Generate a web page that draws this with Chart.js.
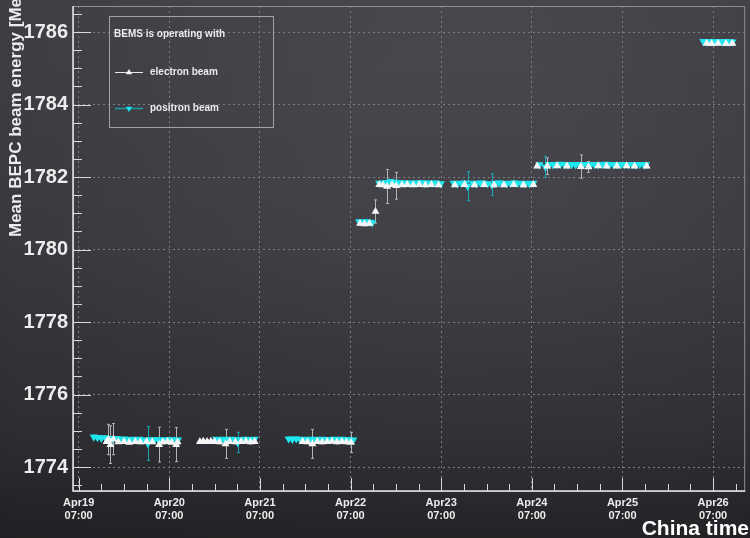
<!DOCTYPE html>
<html>
<head>
<meta charset="utf-8">
<script src="https://cdn.jsdelivr.net/npm/chart.js@4.4.1/dist/chart.umd.min.js"></script>
<style>
  html, body { margin: 0; padding: 0; background: #2e2e33; }
  canvas { display: block; }
</style>
</head>
<body>
<canvas id="bems" width="750" height="538"></canvas>
<script>
// Time axis: hours since Apr19 07:00 (China time)
const dayTicks  = [0, 24, 48, 72, 96, 120, 144, 168];
const dayLabels = ['Apr19', 'Apr20', 'Apr21', 'Apr22', 'Apr23', 'Apr24', 'Apr25', 'Apr26'];
const timeLabel = '07:00';
const energyTicks = [1774, 1776, 1778, 1780, 1782, 1784, 1786];

// Electron beam measurements
const electronHours = [
  7.4, 7.9, 8.4, 9.2, 10.5, 12.0, 13.4, 15.0, 16.3, 18.0, 19.5, 21.3, 22.3, 23.5, 24.6, 25.8, 26.2,
  32.1, 33.0, 34.0, 35.0, 36.0, 37.3, 38.9, 40.0, 41.5, 43.0, 44.3, 45.5, 46.6,
  59.3, 60.6, 61.9, 63.2, 64.5, 65.8, 67.1, 68.4, 69.7, 70.9, 72.1,
  74.5, 75.7, 77.0, 78.6,
  79.6, 80.6, 81.7, 83.0, 84.1, 85.6, 87.0, 88.6, 90.2, 91.8, 93.4, 95.3,
  99.6, 102.2, 104.8, 107.4, 110.0, 112.6, 115.2, 117.8, 120.4,
  121.4, 124.1, 126.7, 129.3, 133.0, 135.0, 137.6, 139.8, 142.5, 145.1, 147.2, 150.4,
  166.3, 167.6, 169.3, 171.4, 173.1
];
const electronEnergy = [
  1774.70, 1774.76, 1774.62, 1774.77, 1774.69, 1774.70, 1774.68, 1774.70, 1774.69, 1774.70, 1774.69, 1774.62, 1774.69, 1774.70, 1774.68, 1774.62, 1774.69,
  1774.70, 1774.71, 1774.70, 1774.71, 1774.70, 1774.69, 1774.64, 1774.70, 1774.69, 1774.70, 1774.71, 1774.69, 1774.70,
  1774.70, 1774.69, 1774.64, 1774.70, 1774.69, 1774.70, 1774.71, 1774.69, 1774.70, 1774.69, 1774.68,
  1780.72, 1780.71, 1780.72, 1781.05,
  1781.79, 1781.78, 1781.74, 1781.79, 1781.76, 1781.78, 1781.79, 1781.78, 1781.79, 1781.78, 1781.79, 1781.78,
  1781.78, 1781.79, 1781.78, 1781.79, 1781.78, 1781.78, 1781.79, 1781.78, 1781.79,
  1782.30, 1782.30, 1782.31, 1782.30, 1782.29, 1782.28, 1782.31, 1782.30, 1782.30, 1782.31, 1782.30, 1782.30,
  1785.69, 1785.68, 1785.69, 1785.68, 1785.69
];
const electronError = [
  0.04, 0.42, 0.52, 0.43, 0.04, 0.05, 0.04, 0.04, 0.05, 0.04, 0.04, 0.48, 0.05, 0.04, 0.04, 0.47, 0.05,
  0.05, 0.04, 0.05, 0.04, 0.04, 0.05, 0.40, 0.04, 0.05, 0.04, 0.04, 0.05, 0.04,
  0.04, 0.05, 0.40, 0.04, 0.05, 0.04, 0.04, 0.05, 0.04, 0.05, 0.28,
  0.04, 0.05, 0.04, 0.32,
  0.04, 0.05, 0.47, 0.04, 0.37, 0.04, 0.05, 0.04, 0.04, 0.05, 0.04, 0.04,
  0.04, 0.05, 0.04, 0.04, 0.05, 0.04, 0.04, 0.05, 0.04,
  0.04, 0.23, 0.04, 0.04, 0.32, 0.15, 0.04, 0.05, 0.04, 0.04, 0.05, 0.04,
  0.04, 0.05, 0.04, 0.04, 0.05
];

// Positron beam measurements
const positronHours = [
  4.0, 5.0, 6.0, 7.0, 8.0, 9.0, 10.0, 11.0, 12.0, 13.0, 14.0, 15.0, 16.0, 17.0, 18.3, 19.0, 20.0, 21.0, 22.0, 23.0, 24.0, 25.0, 26.3,
  36.4, 37.4, 38.4, 39.4, 40.4, 41.4, 42.1, 43.0, 44.0, 45.0, 46.0, 46.6,
  55.6, 56.6, 57.6, 58.6, 59.6, 60.6, 61.6, 62.6, 63.6, 64.6, 65.6, 66.6, 67.6, 68.6, 69.6, 70.6, 71.6, 72.7,
  74.3, 75.3, 76.3, 77.0, 77.7,
  79.6, 80.6, 81.6, 82.6, 83.6, 84.6, 85.6, 86.6, 87.6, 88.6, 89.6, 90.6, 91.6, 92.6, 93.6, 94.6, 95.9,
  99.3, 100.3, 101.3, 102.3, 103.0, 104.3, 105.3, 106.3, 107.3, 108.3, 109.4, 110.3, 111.3, 112.3, 113.3, 114.3, 115.3, 116.3, 117.3, 118.3, 119.3, 120.4,
  122.0, 123.6, 124.6, 125.6, 126.6, 127.6, 128.6, 129.6, 130.6, 131.6, 132.6, 133.6, 134.6, 135.6, 136.6, 137.6, 138.6, 139.6, 140.6, 141.6, 142.6, 143.6, 144.6, 145.6, 146.6, 147.6, 148.6, 149.6, 150.2,
  165.4, 166.4, 167.4, 168.4, 169.4, 170.4, 171.4, 172.4, 173.1
];
const positronEnergy = [
  1774.83, 1774.82, 1774.80, 1774.81, 1774.79, 1774.78, 1774.79, 1774.77, 1774.78, 1774.76, 1774.77, 1774.76, 1774.77, 1774.75, 1774.65, 1774.76, 1774.75, 1774.76, 1774.74, 1774.76, 1774.75, 1774.76, 1774.75,
  1774.77, 1774.76, 1774.77, 1774.76, 1774.77, 1774.76, 1774.68, 1774.76, 1774.77, 1774.76, 1774.76, 1774.77,
  1774.78, 1774.77, 1774.78, 1774.77, 1774.76, 1774.77, 1774.76, 1774.77, 1774.76, 1774.77, 1774.76, 1774.76, 1774.77, 1774.76, 1774.77, 1774.76, 1774.76, 1774.75,
  1780.77, 1780.76, 1780.77, 1780.76, 1780.74,
  1781.83, 1781.84, 1781.85, 1781.88, 1781.86, 1781.84, 1781.85, 1781.83, 1781.84, 1781.83, 1781.84, 1781.85, 1781.83, 1781.84, 1781.83, 1781.84, 1781.82,
  1781.83, 1781.82, 1781.83, 1781.84, 1781.75, 1781.83, 1781.82, 1781.84, 1781.83, 1781.82, 1781.79, 1781.83, 1781.84, 1781.83, 1781.82, 1781.83, 1781.84, 1781.83, 1781.82, 1781.83, 1781.82, 1781.83,
  1782.34, 1782.28, 1782.35, 1782.34, 1782.35, 1782.36, 1782.35, 1782.34, 1782.35, 1782.34, 1782.35, 1782.34, 1782.35, 1782.34, 1782.35, 1782.34, 1782.35, 1782.36, 1782.35, 1782.34, 1782.35, 1782.34, 1782.35, 1782.34, 1782.35, 1782.34, 1782.35, 1782.34, 1782.34,
  1785.74, 1785.73, 1785.74, 1785.73, 1785.74, 1785.73, 1785.74, 1785.73, 1785.73
];
const positronError = [
  0.05, 0.04, 0.05, 0.04, 0.05, 0.04, 0.05, 0.04, 0.04, 0.05, 0.04, 0.05, 0.04, 0.05, 0.47, 0.04, 0.05, 0.04, 0.05, 0.04, 0.05, 0.04, 0.05,
  0.04, 0.05, 0.04, 0.05, 0.04, 0.05, 0.28, 0.04, 0.05, 0.04, 0.05, 0.04,
  0.05, 0.04, 0.05, 0.04, 0.05, 0.04, 0.05, 0.04, 0.05, 0.04, 0.05, 0.04, 0.05, 0.04, 0.05, 0.04, 0.05, 0.04,
  0.05, 0.04, 0.05, 0.04, 0.05,
  0.04, 0.05, 0.04, 0.05, 0.04, 0.05, 0.04, 0.05, 0.04, 0.05, 0.04, 0.05, 0.04, 0.05, 0.04, 0.05, 0.04,
  0.05, 0.04, 0.05, 0.04, 0.40, 0.05, 0.04, 0.05, 0.04, 0.05, 0.30, 0.04, 0.05, 0.04, 0.05, 0.04, 0.05, 0.04, 0.05, 0.04, 0.05, 0.04,
  0.04, 0.29, 0.05, 0.04, 0.05, 0.04, 0.05, 0.04, 0.05, 0.04, 0.05, 0.04, 0.05, 0.04, 0.05, 0.04, 0.05, 0.04, 0.05, 0.04, 0.05, 0.04, 0.05, 0.04, 0.05, 0.04, 0.05, 0.04, 0.05,
  0.04, 0.05, 0.04, 0.05, 0.04, 0.05, 0.04, 0.05, 0.04
];

const FONT = "'Liberation Sans', Arial, Helvetica, sans-serif";
const TEXT = '#ececec';
const ELECTRON_MARK = '#f5f5f5';
const ELECTRON_BAR = '#b4b4b8';
const POSITRON_MARK = '#1fe6ef';
const POSITRON_BAR = '#17a7b0';

function points(hours, energy, err) {
  return hours.map((h, i) => ({ x: h, y: energy[i], err: err[i] }));
}

// Fixed axis box: no automatic edge padding for tick labels
function fixBox(size, horizontal) {
  return function (scale) {
    if (horizontal) scale.height = size; else scale.width = size;
    scale.paddingLeft = 0;
    scale.paddingRight = 0;
    scale.paddingTop = 0;
    scale.paddingBottom = 0;
  };
}

// Page background, slightly darker towards the bottom
const backdrop = {
  id: 'backdrop',
  beforeDraw(chart) {
    const { ctx, width, height } = chart;
    ctx.save();
    const g = ctx.createLinearGradient(0, 0, 0, height);
    g.addColorStop(0, '#49484f');
    g.addColorStop(0.45, '#424148');
    g.addColorStop(0.8, '#36353b');
    g.addColorStop(1, '#28282c');
    ctx.fillStyle = g;
    ctx.fillRect(0, 0, width, height);
    const r = ctx.createRadialGradient(460, 150, 100, 460, 150, 760);
    r.addColorStop(0, 'rgba(0,0,0,0)');
    r.addColorStop(1, 'rgba(0,0,0,0.25)');
    ctx.fillStyle = r;
    ctx.fillRect(0, 0, width, height);
    ctx.restore();
  }
};

// Vertical error bars with short end caps, drawn under the markers
const errorBars = {
  id: 'errorBars',
  beforeDatasetsDraw(chart) {
    const { ctx, scales: { x, y }, chartArea } = chart;
    ctx.save();
    ctx.beginPath();
    ctx.rect(chartArea.left, chartArea.top, chartArea.right - chartArea.left, chartArea.bottom - chartArea.top);
    ctx.clip();
    chart.data.datasets.forEach(ds => {
      ctx.strokeStyle = ds.errorColor;
      ctx.lineWidth = 1;
      ds.data.forEach(p => {
        const px = Math.round(x.getPixelForValue(p.x)) + 0.5;
        const y1 = y.getPixelForValue(p.y + p.err);
        const y2 = y.getPixelForValue(p.y - p.err);
        ctx.beginPath();
        ctx.moveTo(px, y1); ctx.lineTo(px, y2);
        ctx.moveTo(px - 1.5, y1); ctx.lineTo(px + 1.5, y1);
        ctx.moveTo(px - 1.5, y2); ctx.lineTo(px + 1.5, y2);
        ctx.stroke();
      });
    });
    ctx.restore();
  }
};

// Frame, inward tick marks, axis titles and legend box
const decorations = {
  id: 'decorations',
  afterDraw(chart) {
    const { ctx, chartArea: a, scales: { x, y } } = chart;
    ctx.save();

    // frame
    ctx.strokeStyle = '#8e8e94';
    ctx.lineWidth = 1;
    ctx.strokeRect(a.left + 0.5, a.top + 0.5, a.right - a.left - 1, a.bottom - a.top);

    // axis lines
    ctx.strokeStyle = '#e6e6e6';
    ctx.lineWidth = 1.5;
    ctx.beginPath();
    ctx.moveTo(a.left, a.top); ctx.lineTo(a.left, a.bottom);
    ctx.lineTo(a.right, a.bottom);
    ctx.stroke();

    // x ticks: major every day, minor every 6 hours
    ctx.strokeStyle = '#d8d8d8';
    ctx.lineWidth = 1;
    ctx.beginPath();
    for (let hh = Math.ceil(x.min / 6) * 6; hh <= x.max; hh += 6) {
      const px = Math.round(x.getPixelForValue(hh)) + 0.5;
      const len = (hh % 24 === 0) ? 13 : 7;
      ctx.moveTo(px, a.bottom); ctx.lineTo(px, a.bottom - len);
    }
    // y ticks: major every 2 MeV, minor every 0.5 MeV
    for (let v = Math.ceil(y.min * 2) / 2; v <= y.max; v += 0.5) {
      const py = Math.round(y.getPixelForValue(v)) + 0.5;
      const len = (Math.abs(v % 2) < 1e-6) ? 18 : 9;
      ctx.moveTo(a.left, py); ctx.lineTo(a.left + len, py);
    }
    ctx.stroke();

    // y axis title, anchored at its lower end
    ctx.fillStyle = TEXT;
    ctx.font = 'bold 17px ' + FONT;
    ctx.save();
    ctx.translate(21, 237);
    ctx.rotate(-Math.PI / 2);
    ctx.textAlign = 'left';
    ctx.textBaseline = 'alphabetic';
    ctx.fillText('Mean BEPC beam energy [MeV]', 0, 0);
    ctx.restore();

    // x axis title
    ctx.font = 'bold 21px ' + FONT;
    ctx.textAlign = 'right';
    ctx.textBaseline = 'alphabetic';
    ctx.fillStyle = '#ffffff';
    ctx.fillText('China time', 749, 535);

    // legend
    const lx = 109.5, ly = 16.5, lw = 164, lh = 111;
    ctx.strokeStyle = '#a2a2a8';
    ctx.lineWidth = 1;
    ctx.strokeRect(lx, ly, lw, lh);
    ctx.fillStyle = TEXT;
    ctx.font = 'bold 10px ' + FONT;
    ctx.textAlign = 'left';
    ctx.textBaseline = 'middle';
    ctx.fillText('BEMS is operating with', 114, 34);

    const rows = [72, 108];
    chart.data.datasets.forEach((ds, i) => {
      const ry = rows[i] + 0.5;
      ctx.strokeStyle = ds.legendLine;
      ctx.lineWidth = i === 0 ? 1 : 1.5;
      ctx.beginPath();
      ctx.moveTo(115, ry); ctx.lineTo(143, ry);
      ctx.stroke();
      ctx.fillStyle = ds.backgroundColor;
      Chart.helpers.drawPoint(ctx, {
        pointStyle: 'triangle', rotation: ds.pointRotation, radius: 3.6, borderWidth: 0
      }, 129, ry);
      ctx.fillStyle = TEXT;
      ctx.font = 'bold 10px ' + FONT;
      ctx.fillText(ds.label, 150, rows[i]);
    });
    ctx.restore();
  }
};

new Chart(document.getElementById('bems'), {
  type: 'scatter',
  data: {
    datasets: [
      {
        label: 'electron beam',
        data: points(electronHours, electronEnergy, electronError),
        pointStyle: 'triangle',
        pointRotation: 0,
        pointRadius: 4.6,
        pointBorderWidth: 0,
        backgroundColor: ELECTRON_MARK,
        borderColor: ELECTRON_MARK,
        errorColor: ELECTRON_BAR,
        legendLine: '#e8e8e8',
        showLine: false
      },
      {
        label: 'positron beam',
        data: points(positronHours, positronEnergy, positronError),
        pointStyle: 'triangle',
        pointRotation: 180,
        pointRadius: 4.8,
        pointBorderWidth: 0,
        backgroundColor: POSITRON_MARK,
        borderColor: POSITRON_MARK,
        errorColor: POSITRON_BAR,
        legendLine: '#159ca4',
        showLine: false
      }
    ]
  },
  options: {
    responsive: false,
    devicePixelRatio: 1,
    animation: false,
    events: [],
    layout: { padding: { top: 6, right: 2, left: 0, bottom: 0 } },
    plugins: { legend: { display: false }, tooltip: { enabled: false } },
    scales: {
      x: {
        type: 'linear',
        min: -1.5,
        max: 176.5,
        afterFit: fixBox(47, true),
        afterBuildTicks(scale) { scale.ticks = dayTicks.map(v => ({ value: v })); },
        grid: { color: '#7c7b83', lineWidth: 1, drawTicks: false },
        border: { display: false, dash: [2, 3] },
        ticks: {
          padding: 5,
          maxRotation: 0,
          autoSkip: false,
          color: TEXT,
          font: { family: FONT, size: 11, weight: 'bold', lineHeight: 1.2 },
          callback(value) {
            const i = dayTicks.indexOf(value);
            return i >= 0 ? [dayLabels[i], timeLabel] : '';
          }
        }
      },
      y: {
        type: 'linear',
        min: 1773.34,
        max: 1786.72,
        afterFit: fixBox(73, false),
        afterBuildTicks(scale) { scale.ticks = energyTicks.map(v => ({ value: v })); },
        grid: { color: '#7c7b83', lineWidth: 1, drawTicks: false },
        border: { display: false, dash: [2, 3] },
        ticks: {
          padding: 5,
          autoSkip: false,
          color: TEXT,
          font: { family: FONT, size: 20, weight: 'bold' },
          callback(value) { return String(value); }
        }
      }
    }
  },
  plugins: [backdrop, errorBars, decorations]
});
</script>
</body>
</html>
